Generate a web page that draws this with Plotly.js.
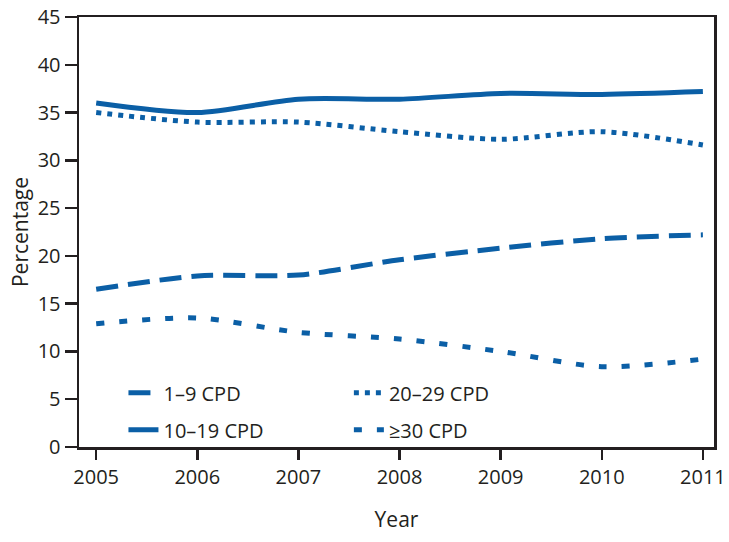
<!DOCTYPE html>
<html>
<head>
<meta charset="utf-8">
<script src="https://cdn.plot.ly/plotly-3.0.1.min.js"></script>
<style>
  html, body { margin: 0; padding: 0; background: #fff; }
  #chart { width: 729px; height: 542px; }
</style>
</head>
<body>
<div id="chart"></div>
<script>
// Years and percentage of smokers by cigarettes per day (CPD)
const years = [2005, 2006, 2007, 2008, 2009, 2010, 2011];
const cpd1to9 = [16.5, 17.9, 18.0, 19.6, 20.8, 21.8, 22.2];
const cpd10to19 = [36.0, 35.0, 36.4, 36.4, 37.0, 36.9, 37.2];
const cpd20to29 = [35.0, 34.0, 34.0, 33.0, 32.2, 33.0, 31.6];
const cpd30plus = [12.9, 13.5, 12.0, 11.3, 10.0, 8.4, 9.2];
const yTicks = [0, 5, 10, 15, 20, 25, 30, 35, 40, 45];

const BLUE = '#0b5fa6';
const INK = '#231f20';
const FONT = 'Open Sans, sans-serif';

function series(name, y, dash, legendId) {
    return {
        type: 'scatter',
        mode: 'lines',
        x: years,
        y: y,
        name: name,
        legend: legendId,
        line: { color: BLUE, width: 5, dash: dash, shape: 'spline', smoothing: 0.8 },
        hoverinfo: 'skip'
    };
}

const traces = [
    series('1–9 CPD', cpd1to9, '22px,10px', 'legend'),
    series('10–19 CPD', cpd10to19, 'solid', 'legend2'),
    series('20–29 CPD', cpd20to29, '5px,6px', 'legend3'),
    series('≥30 CPD', cpd30plus, '8px,15px', 'legend4')
];

// one small legend per entry so the 2x2 block sits where the original has it
const legendBase = {
    xanchor: 'left',
    yanchor: 'middle',
    bgcolor: 'rgba(0,0,0,0)',
    borderwidth: 0,
    font: { family: FONT, size: 20, color: INK }
};

const layout = {
    width: 729,
    height: 542,
    margin: { l: 79, r: 15, t: 17, b: 95 },
    paper_bgcolor: '#fff',
    plot_bgcolor: '#fff',
    font: { family: FONT, size: 20, color: INK },
    showlegend: true,
    legend: { ...legendBase, x: 0.070, y: 0.126 },
    legend2: { ...legendBase, x: 0.070, y: 0.040 },
    legend3: { ...legendBase, x: 0.425, y: 0.126 },
    legend4: { ...legendBase, x: 0.425, y: 0.040 },
    xaxis: {
        range: [2004.83, 2011.11],
        tickvals: years,
        ticktext: years.map(String),
        ticks: 'outside',
        ticklen: 10,
        tickwidth: 2.5,
        tickcolor: INK,
        showline: true,
        linecolor: INK,
        linewidth: 2.5,
        mirror: true,
        showgrid: false,
        zeroline: false,
        tickfont: { family: FONT, size: 20, color: INK },
        title: { text: 'Year', font: { family: FONT, size: 21, color: INK }, standoff: 24 }
    },
    yaxis: {
        range: [0, 45],
        tickvals: yTicks,
        ticks: 'outside',
        ticklen: 12,
        tickwidth: 2.5,
        tickcolor: INK,
        showline: true,
        linecolor: INK,
        linewidth: 2.5,
        mirror: true,
        showgrid: false,
        zeroline: false,
        tickfont: { family: FONT, size: 20, color: INK },
        title: { text: 'Percentage', font: { family: FONT, size: 21, color: INK }, standoff: 4 }
    }
};

Plotly.newPlot('chart', traces, layout, { staticPlot: true, displayModeBar: false });
</script>
</body>
</html>
